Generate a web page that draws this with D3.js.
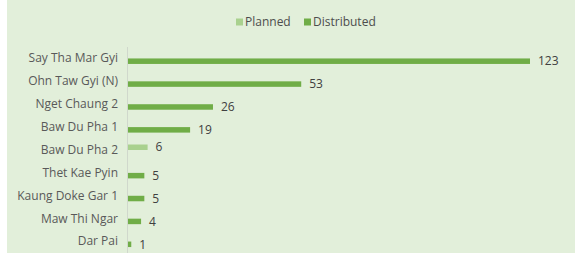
<!DOCTYPE html>
<html>
<head>
<meta charset="utf-8">
<script src="https://cdn.jsdelivr.net/npm/d3@7"></script>
<style>
  body { margin: 0; background: #fff; }
  text { font-family: "Open Sans", sans-serif; }
</style>
</head>
<body>
<div id="chart"></div>
<script>
var sites = ['Say Tha Mar Gyi', 'Ohn Taw Gyi (N)', 'Nget Chaung 2', 'Baw Du Pha 1', 'Baw Du Pha 2',
  'Thet Kae Pyin', 'Kaung Doke Gar 1', 'Maw Thi Ngar', 'Dar Pai'];
var planned = [0, 0, 0, 0, 6, 0, 0, 0, 0];
var distributed = [123, 53, 26, 19, 0, 5, 5, 4, 1];
var seriesNames = ['Planned', 'Distributed'];
var colors = ['#A9D18E', '#70AD47'];

var W = 575, H = 253;
var svg = d3.select('#chart').append('svg')
  .attr('width', W).attr('height', H);

svg.append('rect')
  .attr('x', 7).attr('y', 0)
  .attr('width', W - 7).attr('height', H)
  .attr('fill', '#E2EFDA');

var x = d3.scaleLinear().domain([0, 123]).range([128, 530]);
var y = d3.scaleBand().domain(sites).range([47, 253]);
var inner = d3.scaleBand().domain(seriesNames).range([y.bandwidth() / 2 - 5.5, y.bandwidth() / 2 + 5.5]);

// axis line
svg.append('line')
  .attr('x1', 127.5).attr('x2', 127.5)
  .attr('y1', 47).attr('y2', H)
  .attr('stroke', '#D0D8CC').attr('stroke-width', 1);

// category labels
var yAxis = svg.append('g')
  .attr('transform', 'translate(118,0)')
  .call(d3.axisLeft(y).tickSize(0).tickPadding(0));
yAxis.select('.domain').remove();
yAxis.selectAll('text')
  .attr('fill', '#595959')
  .style('font-size', '12px');

var series = [planned, distributed];
series.forEach(function (vals, si) {
  var g = svg.append('g');
  sites.forEach(function (s, i) {
    var v = vals[i];
    if (!v) return;
    var yy = y(s) + inner(seriesNames[si]);
    g.append('rect')
      .attr('x', x(0))
      .attr('y', yy)
      .attr('width', x(v) - x(0))
      .attr('height', inner.bandwidth())
      .attr('fill', colors[si]);
    g.append('text')
      .attr('x', x(v) + 8)
      .attr('y', yy + inner.bandwidth() / 2)
      .attr('dy', '0.35em')
      .attr('fill', '#404040')
      .style('font-size', '12px')
      .text(v);
  });
});

// legend
var legend = svg.append('g');
var lx = [236, 304];
seriesNames.forEach(function (n, i) {
  legend.append('rect')
    .attr('x', lx[i]).attr('y', 18.5)
    .attr('width', 7).attr('height', 7)
    .attr('fill', colors[i]);
  legend.append('text')
    .attr('x', lx[i] + 9).attr('y', 22)
    .attr('dy', '0.35em')
    .attr('fill', '#4d4d4d')
    .style('font-size', '12px')
    .text(n);
});
</script>
</body>
</html>
